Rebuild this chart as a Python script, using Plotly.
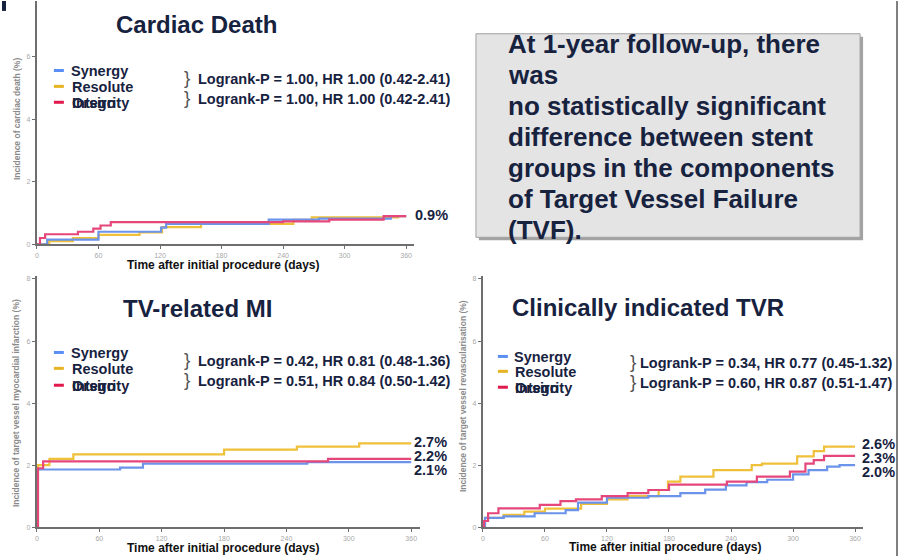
import plotly.graph_objects as go

W, H = 899, 559

# ---------------- data ----------------
series_names = ["Synergy", "Resolute", "Orsiro"]
legend_second_line = "Integrity"

# Cardiac death
cd_days_syn = [0, 10, 60, 121, 126, 226, 275, 345, 360]
cd_syn = [0, 0.15, 0.4, 0.53, 0.65, 0.79, 0.82, 0.9, 0.9]
cd_days_res = [0, 12, 35, 60, 100, 122, 160, 250, 268, 352, 360]
cd_res = [0, 0.1, 0.2, 0.3, 0.38, 0.55, 0.65, 0.78, 0.86, 0.9, 0.9]
cd_days_ors = [0, 3, 8, 40, 55, 62, 72, 240, 285, 338, 360]
cd_ors = [0, 0.2, 0.32, 0.4, 0.5, 0.6, 0.71, 0.73, 0.79, 0.9, 0.9]

# TV-related MI
mi_days_syn = [0, 1, 80, 102, 260, 360]
mi_syn = [0, 1.86, 1.92, 2.05, 2.1, 2.1]
mi_days_res = [0, 1, 12, 35, 180, 250, 310, 360]
mi_res = [0, 2.0, 2.2, 2.35, 2.5, 2.6, 2.7, 2.7]
mi_days_ors = [0, 1, 6, 280, 360]
mi_ors = [0, 1.9, 2.12, 2.2, 2.2]

# Clinically indicated TVR
tvr_days_syn = [0, 2, 20, 50, 80, 92, 120, 160, 191, 215, 235, 255, 275, 300, 315, 333, 345, 360]
tvr_syn = [0, 0.3, 0.35, 0.45, 0.55, 0.79, 0.95, 1.0, 1.1, 1.21, 1.35, 1.45, 1.53, 1.7, 1.84, 1.95, 2.0, 2.0]
tvr_days_res = [0, 2, 20, 40, 60, 95, 120, 140, 170, 179, 191, 223, 260, 270, 304, 320, 330, 360]
tvr_res = [0, 0.3, 0.4, 0.5, 0.6, 0.75, 0.9, 1.0, 1.2, 1.47, 1.63, 1.84, 2.0, 2.05, 2.28, 2.45, 2.6, 2.6]
tvr_days_ors = [0, 1, 5, 15, 55, 75, 90, 115, 140, 160, 180, 236, 265, 297, 312, 320, 330, 360]
tvr_ors = [0, 0.2, 0.45, 0.61, 0.72, 0.84, 0.9, 1.0, 1.1, 1.2, 1.37, 1.47, 1.63, 1.79, 2.05, 2.16, 2.3, 2.3]

x_ticks = [0, 60, 120, 180, 240, 300, 360]
y_ticks = [0, 2, 4, 6, 8]

titles = ["Cardiac Death", "TV-related MI", "Clinically indicated TVR"]
y_titles = ["Incidence of cardiac death (%)",
            "Incidence of target vessel myocardial infarction (%)",
            "Incidence of target vessel revascularisation (%)"]
x_title = "Time after initial procedure (days)"
logrank = [
    ["Logrank-P = 1.00, HR 1.00 (0.42-2.41)", "Logrank-P = 1.00, HR 1.00 (0.42-2.41)"],
    ["Logrank-P = 0.42, HR 0.81 (0.48-1.36)", "Logrank-P = 0.51, HR 0.84 (0.50-1.42)"],
    ["Logrank-P = 0.34, HR 0.77 (0.45-1.32)", "Logrank-P = 0.60, HR 0.87 (0.51-1.47)"],
]
end_labels = [["0.9%"], ["2.7%", "2.2%", "2.1%"], ["2.6%", "2.3%", "2.0%"]]
box_lines = ["At 1-year follow-up, there", "was", "no statistically significant",
             "difference between stent", "groups in the components",
             "of Target Vessel Failure", "(TVF)."]

# ---------------- styling ----------------
FONT = "Liberation Sans, Arial, sans-serif"
NAVY = "#17223f"
LINE_COL = {"Synergy": "#6b93ea", "Resolute": "#efc03a", "Orsiro": "#e6477a"}
LEG_COL = {"Synergy": "#5a8ef5", "Resolute": "#e6b422", "Orsiro": "#e0184c"}
AX = "#6e6e6e"


def fx(p):
    return p / W


def fy(p):
    return 1 - p / H


fig = go.Figure()

# panel geometry (pixels): x0 (day 0), px per day, y0 (value 0), px per unit, ytop
panels = [
    dict(x0=35, xs=1.028, y0=245, ys=31.5, ytop=0),
    dict(x0=35, xs=1.042, y0=530, ys=31.25, ytop=277),
    dict(x0=482, xs=1.036, y0=530, ys=31.25, ytop=277),
]
data = [
    [(cd_days_syn, cd_syn), (cd_days_res, cd_res), (cd_days_ors, cd_ors)],
    [(mi_days_syn, mi_syn), (mi_days_res, mi_res), (mi_days_ors, mi_ors)],
    [(tvr_days_syn, tvr_syn), (tvr_days_res, tvr_res), (tvr_days_ors, tvr_ors)],
]

layout_axes = {}
for i, p in enumerate(panels):
    n = "" if i == 0 else str(i + 1)
    xmax = 368
    x1 = p["x0"] + xmax * p["xs"]
    ymax = (p["y0"] - p["ytop"]) / p["ys"]
    layout_axes["xaxis" + n] = dict(
        domain=[fx(p["x0"]), fx(x1)], range=[0, xmax], anchor="y" + n,
        showline=True, linecolor=AX, linewidth=2, ticks="outside", ticklen=3,
        tickcolor=AX, tickvals=x_ticks, showgrid=False, zeroline=False,
        tickfont=dict(family=FONT, size=7, color="#a8a8a8"), fixedrange=True)
    layout_axes["yaxis" + n] = dict(
        domain=[fy(p["y0"]), fy(p["ytop"])], range=[0, ymax], anchor="x" + n,
        showline=True, linecolor=AX, linewidth=2, ticks="outside", ticklen=3,
        tickcolor=AX, tickvals=y_ticks, showgrid=False, zeroline=False,
        tickfont=dict(family=FONT, size=7, color="#a8a8a8"), fixedrange=True)
    # draw order: resolute, synergy, orsiro
    for k in [1, 0, 2]:
        days, vals = data[i][k]
        nm = series_names[k]
        fig.add_trace(go.Scatter(
            x=days, y=vals, mode="lines", line=dict(color=LINE_COL[nm], width=2.2, shape="hv"),
            xaxis="x" + n, yaxis="y" + n, showlegend=False, name=nm, hoverinfo="skip"))

fig.update_layout(**layout_axes)

ann = []
shapes = []


def text(x, y, s, size, color=NAVY, bold=True, xanchor="left", yanchor="middle", angle=0):
    ann.append(dict(x=fx(x), y=fy(y), xref="paper", yref="paper", text=("<b>%s</b>" % s) if bold else s,
                    showarrow=False, xanchor=xanchor, yanchor=yanchor, textangle=angle,
                    font=dict(family=FONT, size=size, color=color)))


# panel titles
text(195, 24, titles[0], 24, xanchor="center")
text(196, 310, titles[1], 24, xanchor="center")
text(647, 309, titles[2], 24, xanchor="center")

# y axis titles
text(15, 118, y_titles[0], 8.5, color="#8a8a8a", xanchor="center", angle=-90)
text(14, 405, y_titles[1], 8.5, color="#8a8a8a", xanchor="center", angle=-90)
text(462, 398, y_titles[2], 8.5, color="#8a8a8a", xanchor="center", angle=-90)

# x axis titles
text(222, 266, x_title, 12, color="#111111", xanchor="center")
text(222, 551, x_title, 12, color="#111111", xanchor="center")
text(665, 550, x_title, 12, color="#111111", xanchor="center")

# legends
leg_pos = [
    dict(dx=52, tx=67, ys=[71, 87, 103], lr_x=194, lr_y=[79, 99], br_x=185),
    dict(dx=52, tx=67, ys=[355, 371, 388], lr_x=194, lr_y=[363, 383], br_x=185),
    dict(dx=497, tx=511, ys=[359, 374, 390], lr_x=637, lr_y=[365, 385], br_x=632),
]
for i, lp in enumerate(leg_pos):
    for k, nm in enumerate(series_names):
        yy = lp["ys"][k] - 1
        shapes.append(dict(type="line", xref="paper", yref="paper",
                           x0=fx(lp["dx"]), x1=fx(lp["dx"] + 10), y0=fy(yy), y1=fy(yy),
                           line=dict(color=LEG_COL[nm], width=3)))
    text(lp["tx"], lp["ys"][0], series_names[0], 14.5)
    text(lp["tx"] + 1, lp["ys"][1], series_names[1], 14.5)
    text(lp["tx"] + 1, lp["ys"][2], legend_second_line, 14.5)
    text(lp["tx"] + 1, lp["ys"][2], series_names[2], 14.5)
    for j in range(2):
        text(lp["lr_x"], lp["lr_y"][j], logrank[i][j], 14.5)
        text(lp["br_x"], lp["lr_y"][j] - 2, "}", 19, color="#555555", bold=False, xanchor="center")

# end labels
text(412, 216, end_labels[0][0], 14.5)
for j, yy in enumerate([444, 458, 472]):
    text(411, yy, end_labels[1][j], 14.5)
for j, yy in enumerate([446, 460, 474]):
    text(860, yy, end_labels[2][j], 14.5)

# text box with shadow
shapes.append(dict(type="rect", xref="paper", yref="paper", x0=fx(478), x1=fx(863), y0=fy(241), y1=fy(36),
                   fillcolor="#8c8c8c", line=dict(width=0), layer="below", opacity=0.8))
shapes.append(dict(type="rect", xref="paper", yref="paper", x0=fx(475), x1=fx(860), y0=fy(238), y1=fy(33),
                   fillcolor="#e4e4e4", line=dict(color="#a0a0a0", width=1), layer="below"))
for j, s in enumerate(box_lines):
    text(505, 43 + j * 31.2, s, 26)

# decorations: corner mark and right edge line
shapes.append(dict(type="rect", xref="paper", yref="paper", x0=0, x1=fx(4), y0=fy(10), y1=1,
                   fillcolor=NAVY, line=dict(width=0)))
shapes.append(dict(type="line", xref="paper", yref="paper", x0=fx(897), x1=fx(897), y0=0, y1=1,
                   line=dict(color="#555555", width=1.5)))

fig.update_layout(
    width=W, height=H, margin=dict(l=0, r=0, t=0, b=0),
    paper_bgcolor="white", plot_bgcolor="rgba(0,0,0,0)",
    annotations=ann, shapes=shapes, showlegend=False,
    font=dict(family=FONT),
)

fig.write_html("out.html", config={"displayModeBar": False},
               post_script="document.body.style.margin='0';document.body.style.padding='0';")
